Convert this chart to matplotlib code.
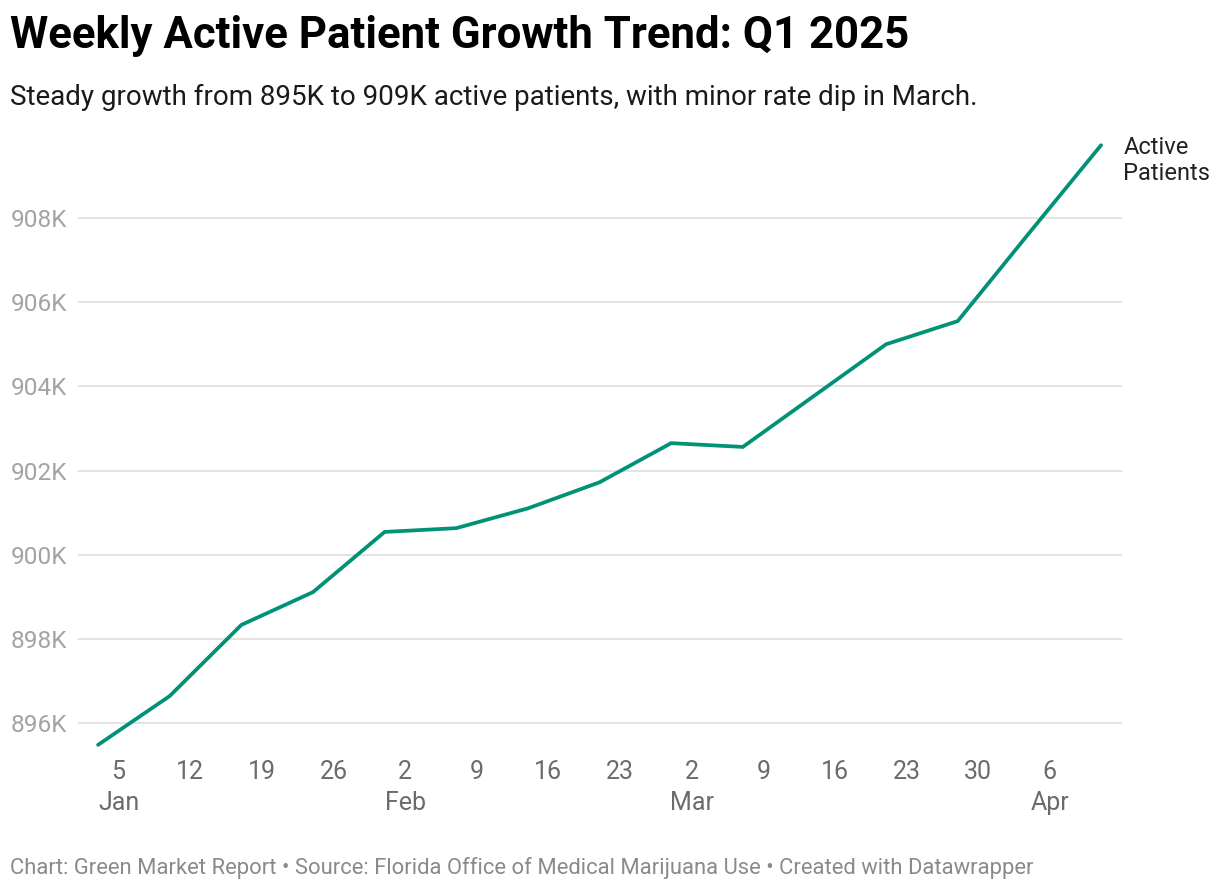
import pandas as pd
import matplotlib.pyplot as plt

# weekly active patients (thousands)
dates = ["2025-01-03", "2025-01-10", "2025-01-17", "2025-01-24", "2025-01-31",
         "2025-02-07", "2025-02-14", "2025-02-21", "2025-02-28", "2025-03-07",
         "2025-03-14", "2025-03-21", "2025-03-28", "2025-04-04", "2025-04-11"]
patients_k = [895.48, 896.64, 898.33, 899.11, 900.54,
              900.63, 901.10, 901.72, 902.65, 902.56,
              903.78, 905.00, 905.55, 907.65, 909.73]

y_ticks = [896, 898, 900, 902, 904, 906, 908]
y_labels = ["896K", "898K", "900K", "902K", "904K", "906K", "908K"]

x_ticks = ["2025-01-05", "2025-01-12", "2025-01-19", "2025-01-26", "2025-02-02",
           "2025-02-09", "2025-02-16", "2025-02-23", "2025-03-02", "2025-03-09",
           "2025-03-16", "2025-03-23", "2025-03-30", "2025-04-06"]
x_labels = ["5\nJan", "12", "19", "26", "2\nFeb", "9", "16", "23", "2\nMar", "9",
            "16", "23", "30", "6\nApr"]

plt.rcParams['font.family'] = ['Roboto', 'DejaVu Sans']

x = pd.to_datetime(dates)
W, H = 1220, 892
fig = plt.figure(figsize=(W / 100, H / 100), dpi=100)
ax = fig.add_axes([78 / W, (H - 750) / H, (1122 - 78) / W, (750 - 140) / H])

ax.plot(x, patients_k, color="#009176", lw=2.7, solid_capstyle="round",
        solid_joinstyle="miter", zorder=3)

ax.set_xlim(pd.Timestamp("2025-01-03") - pd.Timedelta(days=1.96),
            pd.Timestamp("2025-04-11") + pd.Timedelta(days=2.05))
ax.set_ylim(895.358, 909.854)

ax.set_yticks(y_ticks)
ax.set_yticklabels(y_labels)
ax.set_xticks(pd.to_datetime(x_ticks))
ax.set_xticklabels(x_labels, linespacing=1.4)

ax.tick_params(axis="y", length=0, pad=8, labelsize=17.6, labelcolor="#a3a3a3")
ax.tick_params(axis="x", length=0, pad=7, labelsize=18, labelcolor="#6b6b6b")
ax.grid(axis="y", color="#e3e3e3", lw=1.4)
ax.set_axisbelow(True)
for sp in ax.spines.values():
    sp.set_visible(False)

# direct label at line end
ax.annotate("Active\nPatients", xy=(x[-1], patients_k[-1]), xytext=(16, -11),
            textcoords="offset points", ha="left", va="center", fontsize=17,
            color="#222222", linespacing=1.15, annotation_clip=False)

fig.text(10 / W, 1 - 36 / H, "Weekly Active Patient Growth Trend: Q1 2025",
         fontsize=31.5, fontweight="bold", color="#000000", va="center")
fig.text(10 / W, 1 - 97 / H,
         "Steady growth from 895K to 909K active patients, with minor rate dip in March.",
         fontsize=20, color="#1a1a1a", va="center")
fig.text(10 / W, 1 - 868 / H,
         "Chart: Green Market Report \u2022 Source: Florida Office of Medical Marijuana Use \u2022 Created with Datawrapper",
         fontsize=15.8, color="#8a8a8a", va="center")

fig.savefig("out.png", dpi=100, facecolor="white")
